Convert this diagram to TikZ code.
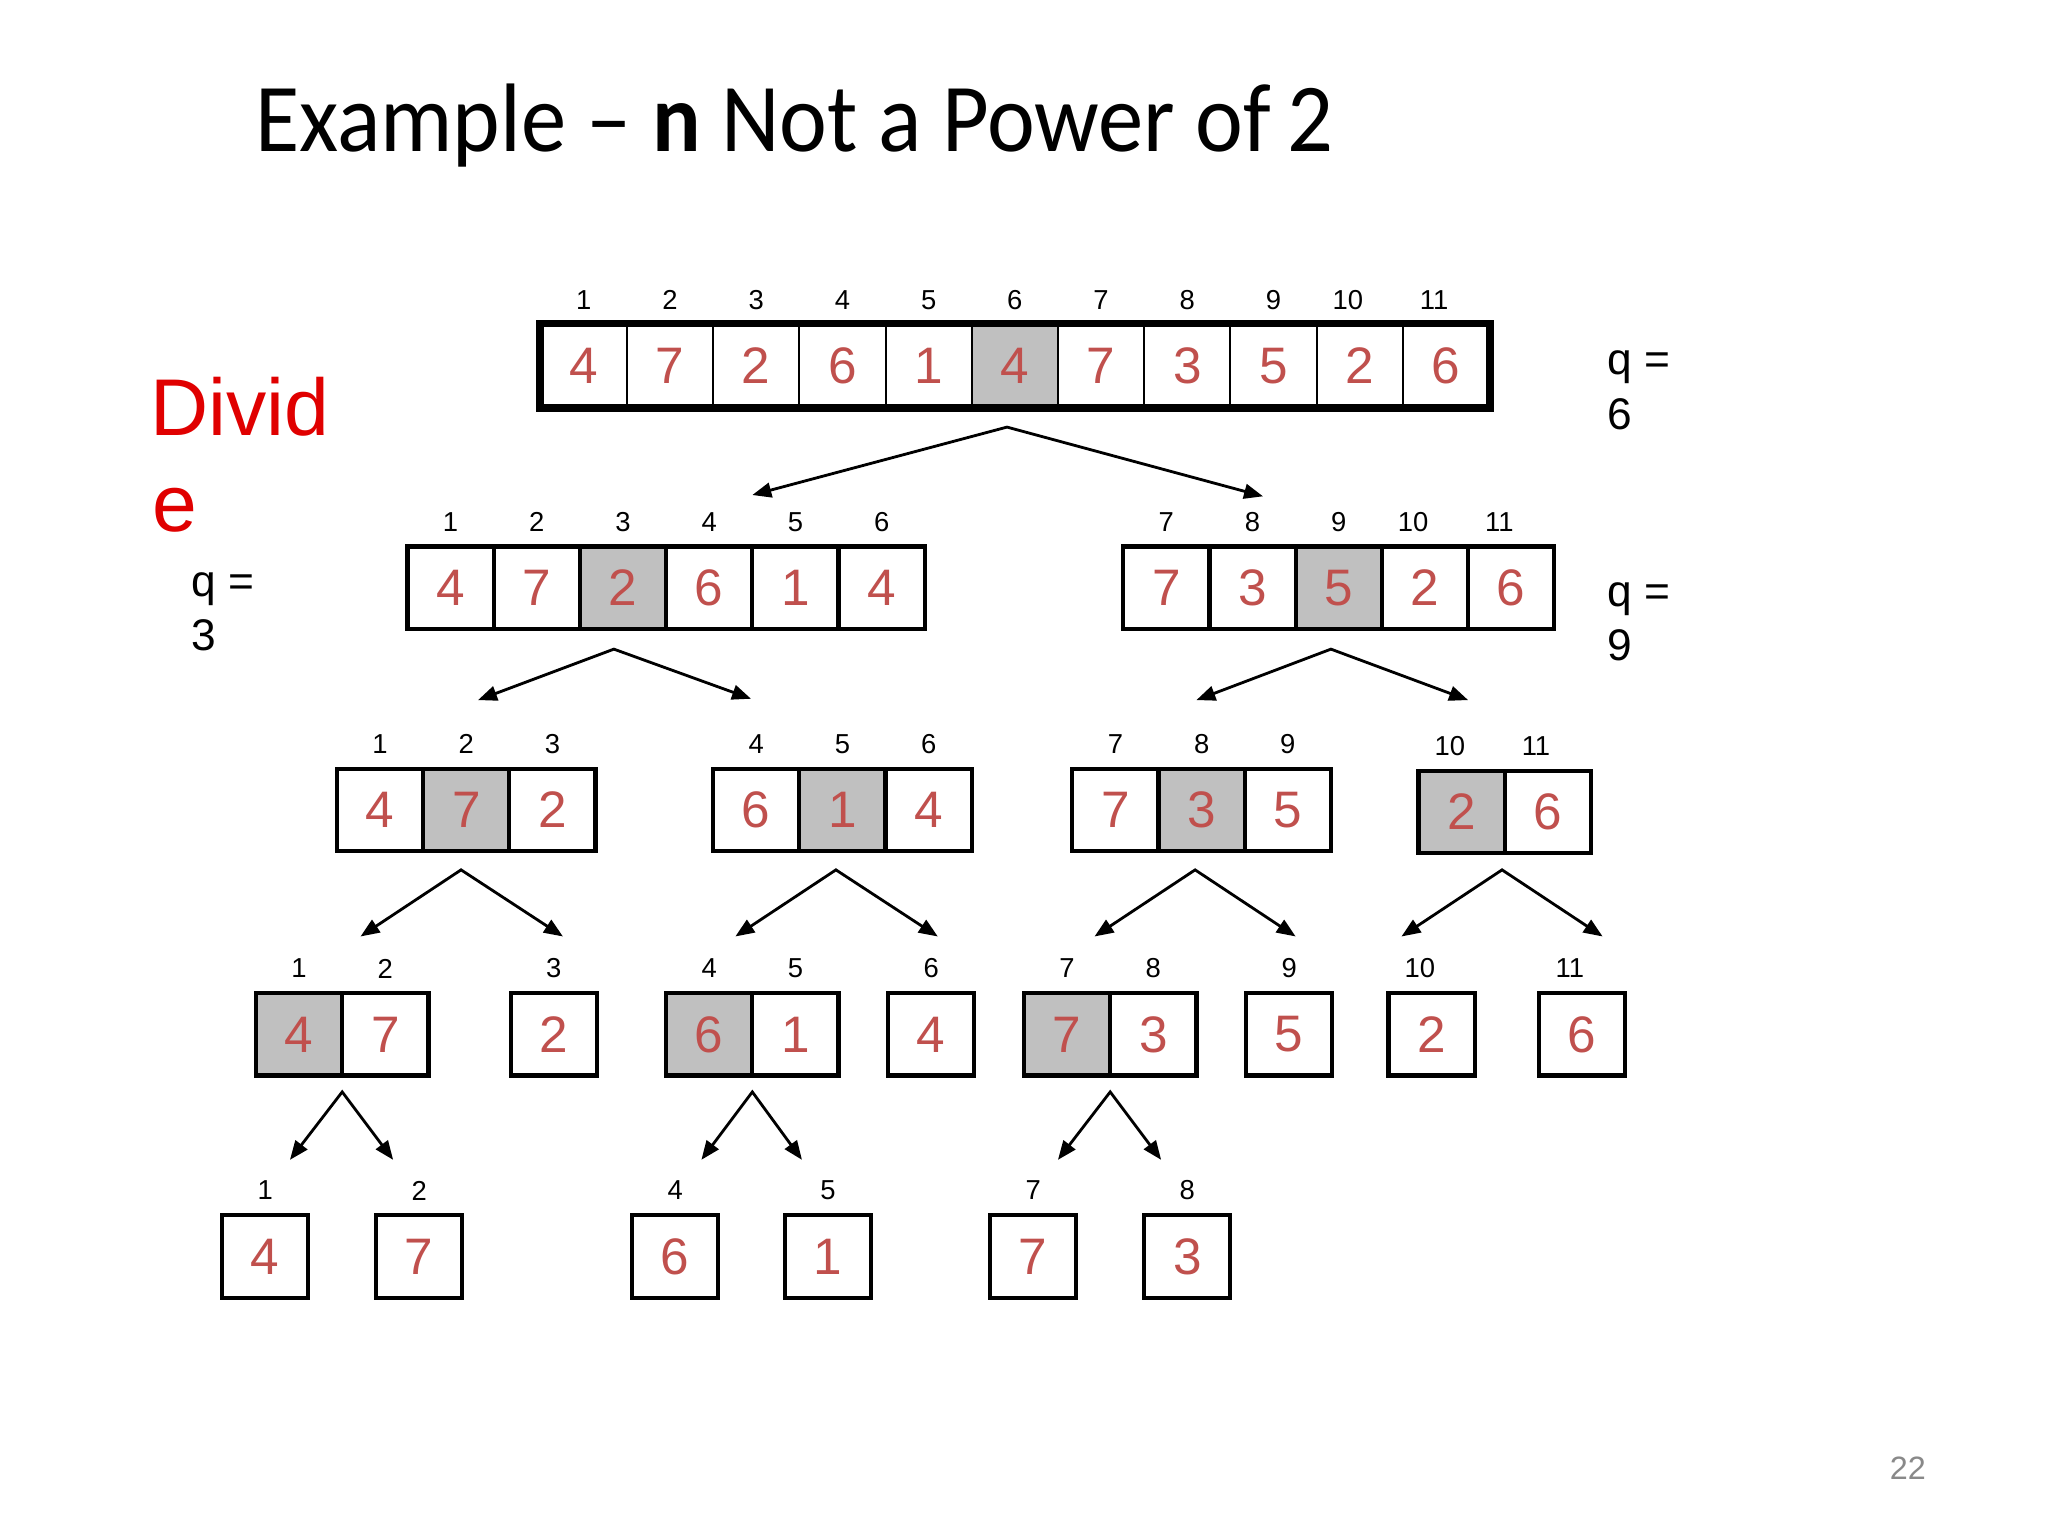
\documentclass[tikz,border=0pt]{standalone}
\usepackage{fontspec}
\setmainfont{Liberation Sans}
\newfontfamily\titlefont[FakeStretch=0.93]{Carlito}
\usetikzlibrary{arrows.meta}
\definecolor{valred}{RGB}{192,80,77}
\definecolor{divred}{RGB}{224,0,0}
\definecolor{shade}{RGB}{192,192,192}
\definecolor{pgnum}{RGB}{137,137,137}

\tikzset{
  cell/.style={draw, line width=1.2pt, minimum width=66*0.013061cm, minimum height=63*0.013061cm,
    inner sep=0pt, font=\fontsize{14.6}{14.6}\selectfont, text=valred},
  idx/.style={font=\fontsize{7.8}{7.8}\selectfont, inner sep=0pt},
  arr/.style={line width=0.8pt, line join=miter,
    {Triangle[length=5.4pt, width=4.2pt]}-{Triangle[length=5.4pt, width=4.2pt]}},
  txt/.style={anchor=base west, inner sep=0pt},
  qtxt/.style={txt, font=\fontsize{12.6}{12.6}\selectfont},
}

% #1 name, #2 left x, #3 top y, #4 value/label pairs, #5 shaded index, #6 cell line width
\newcommand\myarr[6]{%
  \foreach \v/\l [count=\i] in {#4} {%
    \ifnum\i=#5\relax\def\fc{shade}\else\def\fc{none}\fi
    \node[cell, fill=\fc, line width=#6] (#1\i) at ({#2+66*(\i-0.5)},{#3+31.5}) {\v};
    \ifnum\l>9\relax\def\dx{-9}\else\def\dx{0}\fi
    \node[idx] (#1l\i) at ({#2+66*(\i-0.5)+\dx},{#3-19}) {\l};
  }%
}

\begin{document}
\begin{tikzpicture}[x=0.013061cm, y=-0.013061cm]
\useasboundingbox (0,0) rectangle (1568,1176);
\fill[white] (0,0) rectangle (1568,1176);

% title
\node[txt, font=\titlefont\fontsize{27.7}{27.7}\selectfont] (title) at (195,116)
  {Example – {\bfseries n} Not a Power of\,2};

% side texts
\node[txt, text=divred, font=\fontsize{22.9}{22.9}\selectfont] (div1) at (114.7,333.8) {Divid};
\node[txt, text=divred, font=\fontsize{22.9}{22.9}\selectfont] (div2) at (116,407) {e};
\node[qtxt] (q3a) at (146,457) {q =};
\node[qtxt] (q3b) at (146,498) {3};
\node[qtxt] (q6a) at (1230,287) {q =};
\node[qtxt] (q6b) at (1230,329) {6};
\node[qtxt] (q9a) at (1230,464.5) {q =};
\node[qtxt] (q9b) at (1230,506) {9};
\node[anchor=base east, inner sep=0pt, text=pgnum, font=\fontsize{9.2}{9.2}\selectfont] (pg) at (1475,1132.6) {22};

% level 1
\myarr{T}{414}{248.5}{4/1,7/2,2/3,6/4,1/5,4/6,7/7,3/8,5/9,2/10,6/11}{6}{0.6pt}
\draw[line width=2.2pt] (T1.north west) rectangle (T11.south east);

% level 2
\myarr{L}{312}{418.5}{4/1,7/2,2/3,6/4,1/5,4/6}{3}{1.2pt}
\myarr{R}{860}{418.5}{7/7,3/8,5/9,2/10,6/11}{3}{1.2pt}

% level 3
\myarr{A}{258}{588.5}{4/1,7/2,2/3}{2}{1.2pt}
\myarr{B}{546}{588.5}{6/4,1/5,4/6}{2}{1.2pt}
\myarr{C}{821}{588.5}{7/7,3/8,5/9}{2}{1.2pt}
\myarr{D}{1086}{590}{2/10,6/11}{1}{1.2pt}

% level 4
\myarr{AA}{196}{760.5}{4/1,7/2}{1}{1.2pt}
\myarr{AB}{391}{760.5}{2/3}{0}{1.2pt}
\myarr{BA}{510}{760.5}{6/4,1/5}{1}{1.2pt}
\myarr{BB}{680}{760.5}{4/6}{0}{1.2pt}
\myarr{CA}{784}{760.5}{7/7,3/8}{1}{1.2pt}
\myarr{CB}{954}{760.5}{5/9}{0}{1.2pt}
\myarr{DA}{1063}{760.5}{2/10}{0}{1.2pt}
\myarr{DB}{1178}{760.5}{6/11}{0}{1.2pt}

% level 5
\myarr{E}{170}{930.5}{4/1}{0}{1.2pt}
\myarr{F}{288}{930.5}{7/2}{0}{1.2pt}
\myarr{G}{484}{930.5}{6/4}{0}{1.2pt}
\myarr{H}{601}{930.5}{1/5}{0}{1.2pt}
\myarr{I}{758}{930.5}{7/7}{0}{1.2pt}
\myarr{J}{876}{930.5}{3/8}{0}{1.2pt}

% arrow coordinates
\coordinate (Tap) at (771,327);  \coordinate (Tl) at (576,379);  \coordinate (Tr) at (967,380);
\coordinate (Lap) at (470,497);  \coordinate (Ll) at (366,536);  \coordinate (Lr) at (575,535);
\coordinate (Rap) at (1019,497); \coordinate (Rl) at (916,536);  \coordinate (Rr) at (1124,536);
\coordinate (Aap) at (353,666);  \coordinate (Al) at (276,717);  \coordinate (Ar) at (431,717);
\coordinate (Bap) at (640,666);  \coordinate (Bl) at (563,717);  \coordinate (Br) at (718,717);
\coordinate (Cap) at (915,666);  \coordinate (Cl) at (838,717);  \coordinate (Cr) at (992,717);
\coordinate (Dap) at (1150,666); \coordinate (Dl) at (1073,717); \coordinate (Dr) at (1227,717);
\coordinate (AAap) at (262,836); \coordinate (AAl) at (222,888); \coordinate (AAr) at (301,888);
\coordinate (BAap) at (576,836); \coordinate (BAl) at (537,888); \coordinate (BAr) at (614,888);
\coordinate (CAap) at (850,836); \coordinate (CAl) at (810,888); \coordinate (CAr) at (889,888);

\foreach \n in {T,L,R,A,B,C,D,AA,BA,CA}
  \draw[arr] (\n l) -- (\n ap) -- (\n r);

\end{tikzpicture}
\end{document}
